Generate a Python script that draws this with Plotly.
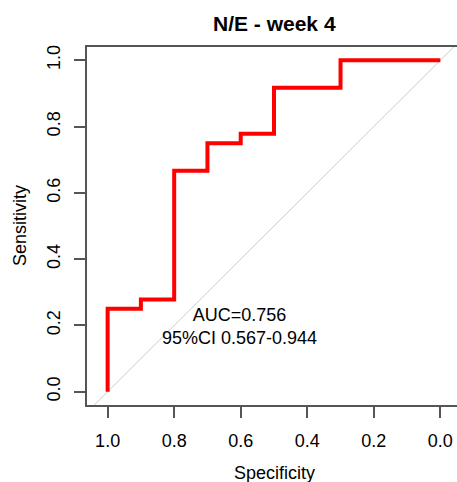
import plotly.graph_objects as go

# ROC curve data (specificity, sensitivity)
specificity = [1.0, 1.0, 0.9, 0.9, 0.8, 0.8, 0.7, 0.7, 0.6, 0.6, 0.5, 0.5, 0.3, 0.3, 0.0]
sensitivity = [0.0, 0.25, 0.25, 0.278, 0.278, 0.667, 0.667, 0.75, 0.75, 0.778, 0.778, 0.917, 0.917, 1.0, 1.0]

# reference diagonal (sensitivity = 1 - specificity)
diag_spec = [1.2, -0.2]
diag_sens = [-0.2, 1.2]

tick_vals = [0.0, 0.2, 0.4, 0.6, 0.8, 1.0]
tick_text = ["0.0", "0.2", "0.4", "0.6", "0.8", "1.0"]

title_text = "N/E - week 4"
auc_text = "AUC=0.756<br>95%CI 0.567-0.944"
auc_pos = [0.604, 0.196]

FONT = "Liberation Sans, Arial, sans-serif"

fig = go.Figure()
fig.add_trace(go.Scatter(x=diag_spec, y=diag_sens, mode="lines",
                         line=dict(color="#cccccc", width=1), hoverinfo="skip"))
fig.add_trace(go.Scatter(x=specificity, y=sensitivity, mode="lines",
                         line=dict(color="#ff0000", width=4, shape="linear")))

fig.add_annotation(x=auc_pos[0], y=auc_pos[1], xref="x", yref="y", text=auc_text,
                   showarrow=False, font=dict(family=FONT, size=18, color="#000"),
                   align="center", xanchor="center", yanchor="middle")
fig.add_annotation(x=0.5, y=1.067, xref="x", yref="paper", text="<b>" + title_text + "</b>",
                   showarrow=False, font=dict(family=FONT, size=21, color="#000"),
                   xanchor="center", yanchor="middle")
fig.add_annotation(x=0.5, y=-0.19, xref="x", yref="paper", text="Specificity",
                   showarrow=False, font=dict(family=FONT, size=18, color="#000"),
                   xanchor="center", yanchor="middle")
fig.add_annotation(x=-0.181, y=0.5, xref="paper", yref="y", text="Sensitivity",
                   showarrow=False, textangle=-90, font=dict(family=FONT, size=18, color="#000"),
                   xanchor="center", yanchor="middle")

fig.update_layout(
    width=457, height=482,
    margin=dict(l=87, r=0, t=47, b=77, autoexpand=False),
    plot_bgcolor="white", paper_bgcolor="white",
    showlegend=False,
    font=dict(family=FONT, size=18, color="#000"),
)
fig.update_xaxes(range=[1.062, -0.050], tickvals=tick_vals, ticktext=tick_text,
                 automargin=False,
                 showgrid=False, zeroline=False, showline=True, mirror=True,
                 linecolor="#555555", linewidth=1.5, ticks="outside", ticklen=11,
                 tickcolor="#555555", tickwidth=1.5, ticklabelstandoff=8,
                 tickfont=dict(family=FONT, size=18, color="#000"))
fig.update_yaxes(range=[-0.04, 1.04], tickvals=tick_vals, ticktext=tick_text,
                 automargin=False,
                 showgrid=False, zeroline=False, showline=True, mirror=False,
                 linecolor="#555555", linewidth=1.5, ticks="outside", ticklen=11,
                 tickcolor="#555555", tickwidth=1.5, tickangle=-90, ticklabelstandoff=7,
                 tickfont=dict(family=FONT, size=18, color="#000"))

fig.write_html("out.html", config={"displayModeBar": False},
               post_script="document.body.style.margin='0';document.body.style.overflow='hidden';")
